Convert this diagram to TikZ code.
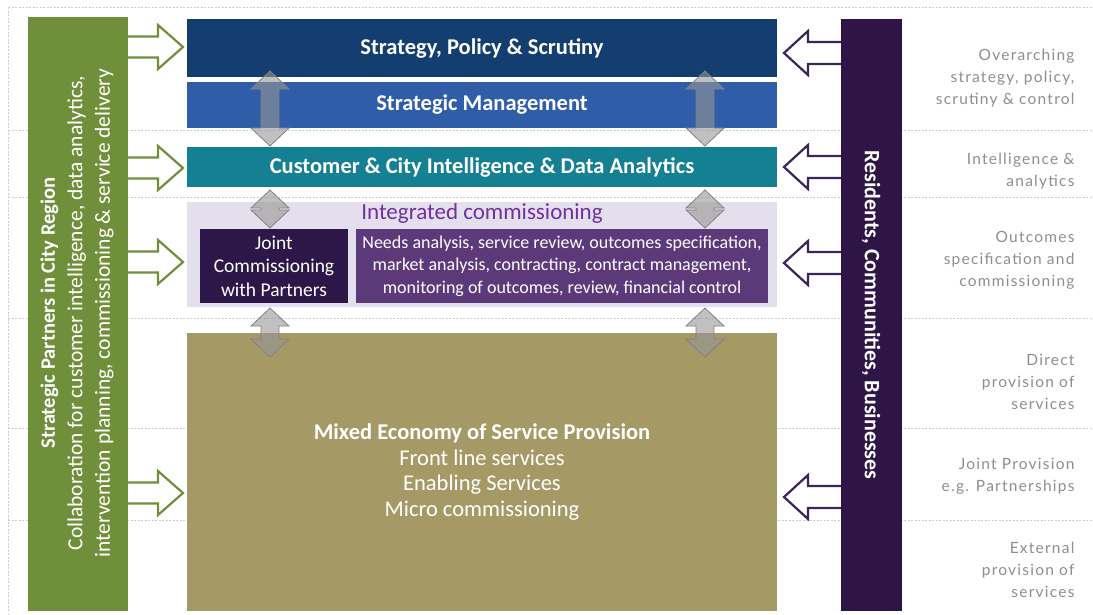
\documentclass[tikz,border=0pt]{standalone}
\usepackage{fontspec}
\setmainfont{Carlito}
\newfontfamily\sidefont[LetterSpace=8]{Lato}
\usetikzlibrary{calc}
\definecolor{gbar}{RGB}{112,143,59}
\definecolor{navy}{RGB}{20,62,112}
\definecolor{midblue}{RGB}{47,93,168}
\definecolor{teal}{RGB}{20,128,145}
\definecolor{lav}{RGB}{228,223,236}
\definecolor{dpurple}{RGB}{45,22,72}
\definecolor{mpurple}{RGB}{92,58,122}
\definecolor{olive}{RGB}{165,153,102}
\definecolor{rbar}{RGB}{46,21,70}
\definecolor{rarrow}{RGB}{60,35,90}
\definecolor{ictext}{RGB}{112,48,160}
\definecolor{sidegray}{RGB}{142,142,142}
\definecolor{dashgray}{RGB}{205,205,205}
\tikzset{
  box/.style={rectangle, inner sep=0pt, text=white, align=center},
  guide/.style={dashgray, line width=0.7pt, dash pattern=on 2pt off 1.5pt},
  garrow/.style={draw=gbar, line width=2.2pt, fill=white, line join=miter},
  parrow/.style={draw=rarrow, line width=2.2pt, fill=white, line join=miter},
  darrow/.style={draw={rgb,255:red,130;green,130;blue,130}, line width=0.8pt, fill={rgb,255:red,150;green,150;blue,150}, fill opacity=0.6},
  sidetext/.style={anchor=east, align=right, text=sidegray, font=\sidefont\fontsize{15.5}{22}\selectfont},
  boxfont/.style={font=\bfseries\fontsize{22.5}{24}\selectfont},
}
% right-pointing block arrow: style, x-start, x-tip, y
\newcommand\blockR[4]{\draw[#1] (#2,#4-10.5) -- (#3-25,#4-10.5) -- (#3-25,#4-22) -- (#3,#4) -- (#3-25,#4+22) -- (#3-25,#4+10.5) -- (#2,#4+10.5) -- cycle;}
% left-pointing block arrow: style, x-start(right), x-tip(left), y
\newcommand\blockL[4]{\draw[#1] (#2,#4-11) -- (#3+24,#4-11) -- (#3+24,#4-22) -- (#3,#4) -- (#3+24,#4+22) -- (#3+24,#4+11) -- (#2,#4+11) -- cycle;}
% vertical double arrow: x, ytop, ybottom
\newcommand\dblV[3]{\draw[darrow] (#1,#2) -- (#1+19,#2+18) -- (#1+9,#2+18) -- (#1+9,#3-18) -- (#1+19,#3-18) -- (#1,#3) -- (#1-19,#3-18) -- (#1-9,#3-18) -- (#1-9,#2+18) -- (#1-19,#2+18) -- cycle;}
\begin{document}
\begin{tikzpicture}[x=1pt,y=-1pt]
\useasboundingbox (0,0) rectangle (1093,614);
% guide lines
\foreach \yy in {7,130,197,318,428,520} {\draw[guide] (8,\yy) -- (1093,\yy);}
\draw[guide] (8,7) -- (8,614);
% block arrows (drawn under the bars)
\blockR{garrow}{120}{183}{47}
\blockR{garrow}{120}{183}{168}
\blockR{garrow}{120}{183}{262}
\blockR{garrow}{120}{183}{493}
\blockL{parrow}{850}{784}{53}
\blockL{parrow}{850}{784}{167}
\blockL{parrow}{850}{784}{263}
\blockL{parrow}{850}{784}{497}
% side bars
\node[box, fill=gbar, minimum width=100, minimum height=594] (gb) at (78,314) {};
\node[box, fill=rbar, minimum width=61, minimum height=592] (rb) at (871.5,315) {};
\node[rotate=90, align=center, text=white, font=\fontsize{21.5}{27.5}\selectfont] (gbt) at (77,313) {{\bfseries\fontsize{20.5}{27.5}\selectfont Strategic Partners in City Region}\\Collaboration for customer intelligence, data analytics,\\intervention planning, commissioning \& service delivery};
\node[rotate=-90, text=white, font=\bfseries\fontsize{22}{24}\selectfont] (rbt) at (871,315) {Residents, Communities, Businesses};
% main boxes
\node[box, fill=navy, minimum width=590, minimum height=58, boxfont] (b1) at (482,48) {Strategy, Policy \& Scrutiny};
\node[box, fill=midblue, minimum width=590, minimum height=46, boxfont] (b2) at (482,105) {Strategic Management};
\node[box, fill=teal, minimum width=590, minimum height=40, boxfont] (b3) at (482,167) {Customer \& City Intelligence \& Data Analytics};
\node[box, fill=lav, minimum width=590, minimum height=105] (ic) at (482,254.5) {};
\node[text=ictext, font=\fontsize{23}{24}\selectfont] (ict) at (482,213) {Integrated commissioning};
\node[box, fill=dpurple, minimum width=148, minimum height=74, font=\fontsize{19.5}{23.5}\selectfont] (jc) at (274,266) {Joint\\Commissioning\\with Partners};
\node[box, fill=mpurple, minimum width=412, minimum height=74, font=\fontsize{18}{22.5}\selectfont] (na) at (562,266) {Needs analysis, service review, outcomes specification,\\market analysis, contracting, contract management,\\monitoring of outcomes, review, financial control};
\node[box, fill=olive, minimum width=590, minimum height=278, font=\fontsize{22.5}{25.7}\selectfont] (me) at (482,472) {{\bfseries Mixed Economy of Service Provision}\\Front line services\\Enabling Services\\Micro commissioning};
% grey double arrows
\dblV{270}{71}{146}
\dblV{705}{71}{146}
\dblV{270}{190}{228}
\dblV{705}{190}{228}
\dblV{270}{308}{357}
\dblV{705}{308}{357}
% side texts
\node[sidetext] (s1) at (1078,78) {Overarching\\strategy, policy,\\scrutiny \& control};
\node[sidetext] (s2) at (1078,171) {Intelligence \&\\analytics};
\node[sidetext] (s3) at (1078,260) {Outcomes\\specification and\\commissioning};
\node[sidetext] (s4) at (1078,382) {Direct\\provision of\\services};
\node[sidetext] (s5) at (1078,476) {Joint Provision\\e.g. Partnerships};
\node[sidetext] (s6) at (1078,570) {External\\provision of\\services};
\end{tikzpicture}
\end{document}
